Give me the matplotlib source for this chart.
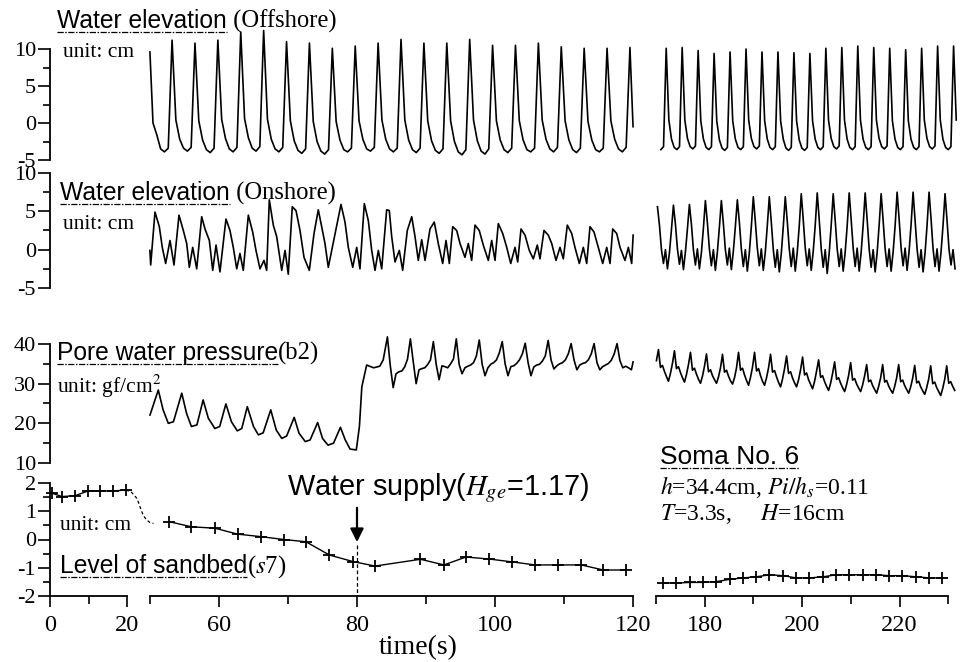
import numpy as np
import matplotlib
matplotlib.use("Agg")
import matplotlib.pyplot as plt
from matplotlib.lines import Line2D
from matplotlib.ticker import FixedLocator, NullFormatter

plt.rcParams['font.family'] = ['Liberation Serif', 'DejaVu Serif']
plt.rcParams['mathtext.fontset'] = 'stix'
plt.rcParams['axes.unicode_minus'] = False

W, H = 969, 662

# ---------------- values ----------------
# wave records are sampled on an even time grid (start, step), one wave per row

# offshore water elevation (cm), 50-120 s
off2_start, off2_step = 49.88, 0.553
off2_v = [
    9.6, 0.0, -1.6, -3.5, -3.9, -3.4,
    11.2, 0.4, -2.2, -3.4, -3.8, -3.3,
    10.8, 0.3, -2.3, -3.6, -4.0, -3.4,
    11.2, 0.5, -2.1, -3.5, -3.9, -3.3,
    12.3, 0.6, -2.0, -3.4, -3.8, -3.2,
    12.5, 0.5, -2.2, -3.5, -3.9, -3.3,
    11.0, 0.3, -2.4, -3.7, -4.1, -3.5,
    10.8, 0.2, -2.5, -3.8, -4.2, -3.6,
    10.1, 0.2, -2.3, -3.6, -3.9, -3.4,
    10.4, 0.3, -2.2, -3.5, -3.8, -3.3,
    10.8, 0.4, -2.2, -3.5, -3.9, -3.4,
    11.3, 0.4, -2.3, -3.6, -4.0, -3.4,
    10.8, 0.3, -2.4, -3.7, -4.1, -3.5,
    10.8, 0.3, -2.5, -3.9, -4.3, -3.6,
    11.3, 0.4, -2.4, -3.8, -4.2, -3.5,
    10.5, 0.3, -2.3, -3.6, -4.0, -3.4,
    10.5, 0.3, -2.3, -3.6, -3.9, -3.4,
    10.8, 0.4, -2.2, -3.5, -3.9, -3.3,
    10.3, 0.3, -2.3, -3.6, -4.0, -3.4,
    10.1, 0.2, -2.3, -3.6, -3.9, -3.4,
    10.1, 0.3, -2.2, -3.5, -3.9, -3.3,
    10.2, -0.5,
]

# offshore water elevation (cm), 170-232 s
off3_start, off3_step = 171.0, 0.5463
off3_v = [
    -3.6, -3.2,
    10.1, 0.4, -2.2, -3.3, -3.6, -3.2,
    10.2, 0.4, -2.1, -3.2, -3.5, -3.1,
    9.8, 0.3, -2.2, -3.3, -3.6, -3.2,
    9.4, 0.3, -2.3, -3.4, -3.7, -3.3,
    9.6, 0.3, -2.2, -3.3, -3.6, -3.2,
    10.0, 0.4, -2.1, -3.2, -3.5, -3.1,
    9.6, 0.3, -2.2, -3.3, -3.6, -3.2,
    9.6, 0.3, -2.2, -3.4, -3.7, -3.3,
    9.5, 0.3, -2.3, -3.4, -3.7, -3.3,
    9.4, 0.3, -2.2, -3.3, -3.6, -3.2,
    10.1, 0.4, -2.1, -3.2, -3.5, -3.1,
    10.2, 0.4, -2.2, -3.3, -3.6, -3.2,
    10.4, 0.4, -2.2, -3.3, -3.6, -3.2,
    10.2, 0.4, -2.1, -3.2, -3.5, -3.1,
    10.1, 0.3, -2.2, -3.3, -3.6, -3.2,
    9.9, 0.3, -2.2, -3.3, -3.6, -3.2,
    10.1, 0.4, -2.1, -3.2, -3.5, -3.1,
    10.4, 0.4, -2.2, -3.3, -3.6, -3.2,
    10.4, 0.4,
]

# onshore water elevation (cm), 50-120 s (irregular, points picked one by one)
on2_t = [49.86, 50.10, 50.72, 51.35, 51.78, 52.27, 52.90, 53.48, 54.20, 54.83,
         55.32, 55.70, 56.19, 56.77, 57.49, 57.97, 58.60, 59.09, 59.57, 60.14,
         61.01, 61.59, 62.07, 62.57, 63.04, 63.52, 64.25, 64.88, 65.36, 65.94,
         66.52, 66.91, 67.29, 67.87, 68.36, 69.09, 69.57, 70.04, 70.62, 71.16,
         71.74, 72.32, 73.09, 73.77, 74.39, 74.88, 75.36, 75.84, 77.68, 78.26,
         78.74, 79.38, 79.96, 80.43, 81.06, 81.64, 82.13, 82.61, 83.09, 83.58,
         84.30, 84.68, 85.03, 85.51, 86.13, 86.62, 87.29, 87.93, 88.41, 88.88,
         89.38, 89.86, 90.58, 91.20, 91.78, 92.42, 92.90, 93.38, 93.87, 94.45,
         94.93, 95.65, 96.13, 96.62, 97.10, 97.72, 98.30, 99.03, 99.52, 100.00,
         100.48, 101.12, 101.70, 102.28, 102.90, 103.29, 103.77, 104.35, 104.97, 105.55,
         106.13, 106.52, 107.10, 107.72, 108.22, 108.84, 109.42, 109.90, 110.48, 111.12,
         111.59, 112.22, 112.80, 113.29, 113.77, 114.35, 114.97, 115.61, 116.19, 116.67,
         117.06, 117.64, 118.12, 118.84, 119.33, 119.81, 120.29]
on2_v = [-0.1, -2.0, 4.9, 3.0, 0.3, -1.8, 1.2, -2.0, 4.5, 2.5,
         0.8, -2.3, 0.3, -2.5, 4.3, 2.7, 1.2, -2.7, 0.6, -2.9,
         4.0, 2.5, 0.3, -2.5, -0.5, -2.7, 4.5, 2.3, -0.1, -2.5,
         -1.4, -2.7, 6.5, 3.2, 1.7, -2.7, -0.1, -3.2, 5.6, 5.1,
         2.5, -1.0, -2.7, 2.1, 5.2, 3.0, 0.8, -2.3, 5.9, 3.6,
         0.3, -2.3, 0.3, -2.5, 6.0, 3.8, -0.1, -2.7, -0.1, -2.5,
         5.2, 5.1, 1.7, -1.6, -0.1, -2.7, 2.5, 4.3, 1.7, -1.4,
         1.3, -1.4, 2.7, 3.6, 0.8, -1.8, 1.2, -1.8, 3.0, 2.5,
         0.8, -1.0, 0.8, -1.4, 3.2, 2.5, 0.6, -1.4, 1.2, -1.4,
         3.4, 2.1, 0.3, -1.8, 0.3, -1.6, 2.7, 1.9, -0.1, -1.2,
         0.6, -1.2, 2.5, 1.9, 0.8, -1.4, 0.3, -1.2, 3.2, 2.1,
         0.3, -1.8, 0.3, -1.8, 3.0, 2.3, 0.3, -1.8, 0.3, -1.8,
         2.7, 2.1, 0.3, -1.4, 0.3, -1.8, 1.9]

# onshore water elevation (cm), 170-232 s
on3_start, on3_step = 170.3, 0.41
on3_v = [
    5.6, 3.2, 0.0, -1.8, 0.0, -2.5, -0.4, 2.6,
    5.8, 3.3, 0.1, -1.9, -0.1, -2.6, -0.3, 2.7,
    5.9, 3.3, 0.0, -2.0, 0.1, -2.5, -0.4, 2.8,
    6.4, 3.5, 0.1, -2.1, 0.0, -2.7, -0.3, 2.9,
    6.4, 3.4, 0.0, -2.0, 0.2, -2.6, -0.2, 3.0,
    6.5, 3.6, 0.1, -2.2, 0.0, -2.8, -0.4, 3.0,
    6.9, 3.7, 0.2, -2.1, 0.1, -2.7, -0.3, 3.1,
    6.9, 3.6, 0.0, -2.3, 0.0, -2.9, -0.5, 3.0,
    6.9, 3.7, 0.1, -2.2, 0.2, -2.8, -0.3, 3.1,
    7.3, 3.9, 0.2, -2.1, 0.1, -2.7, -0.2, 3.2,
    7.4, 3.9, 0.1, -2.3, 0.0, -3.1, -0.4, 3.2,
    7.3, 3.8, 0.1, -2.2, 0.1, -2.8, -0.3, 3.1,
    7.4, 3.9, 0.2, -2.2, 0.2, -2.8, -0.3, 3.2,
    7.4, 3.9, 0.1, -2.3, 0.0, -2.9, -0.4, 3.2,
    7.3, 3.8, 0.1, -2.2, 0.1, -2.8, -0.3, 3.1,
    7.5, 4.0, 0.2, -2.1, 0.2, -2.7, -0.2, 3.3,
    7.5, 3.9, 0.1, -2.3, 0.0, -2.9, -0.4, 3.2,
    7.5, 4.0, 0.1, -2.2, 0.1, -2.8, -0.3, 3.2,
    7.3, 3.8, 0.0, -2.0, 0.0, -2.5,
]

# pore water pressure b2 (gf/cm2), 50-84 s, points picked one by one
pore2a_t = [50.0, 51.2, 51.9, 52.65, 53.4, 54.6, 55.3, 56.0, 56.8, 57.7,
            58.45, 59.4, 60.1, 61.0, 61.8, 62.65, 63.3, 64.1, 65.0, 65.7,
            66.4, 67.5, 68.3, 69.1, 69.8, 70.9, 71.6, 72.5, 73.2, 74.3,
            75.0, 75.8, 76.6, 77.6, 78.3, 79.0, 79.9, 80.35, 80.7, 81.4,
            82.4, 83.3, 83.8]
pore2a_v = [22.1, 28.4, 23.4, 20.0, 20.4, 27.6, 22.5, 19.2, 19.6, 25.9,
            21.3, 18.7, 19.2, 24.9, 20.4, 18.1, 18.7, 24.2, 19.2, 17.1,
            17.6, 23.4, 18.3, 16.2, 16.8, 21.5, 17.5, 15.4, 15.8, 20.2,
            16.2, 14.5, 15.0, 19.0, 15.8, 13.5, 13.3, 19.2, 29.2, 34.7,
            34.0, 34.4, 36.0]

# pore water pressure b2, 84-120 s
pore2b_start, pore2b_step = 84.41, 0.416
pore2b_v = [
    41.8, 34.5, 29.0, 32.5, 33.0, 33.2, 34.2, 36.2,
    41.3, 35.5, 30.0, 33.5, 33.8, 34.0, 34.8, 36.0,
    40.6, 34.8, 31.0, 34.5, 34.3, 34.0, 35.0, 36.2,
    41.3, 34.8, 32.5, 34.0, 34.4, 34.7, 35.3, 37.0,
    41.0, 34.9, 32.0, 34.0, 34.9, 35.3, 36.0, 37.8,
    40.6, 35.0, 32.0, 34.3, 34.5, 35.1, 36.0, 37.5,
    40.2, 35.3, 32.0, 34.2, 34.7, 34.9, 35.7, 37.0,
    40.9, 36.0, 33.7, 34.5, 35.0, 35.3, 36.0, 37.5,
    40.1, 36.0, 33.5, 34.7, 35.1, 35.3, 36.0, 37.5,
    40.1, 35.3, 33.5, 34.3, 34.7, 35.1, 35.9, 37.5,
    40.1, 35.8, 34.0, 34.4, 34.0, 33.5, 35.5,
]

# pore water pressure b2, 170-232 s
pore3_start, pore3_step = 170.09, 0.411
pore3_v = [
    35.8,
    38.6, 34.1, 34.6, 33.1, 31.8, 30.6, 32.6, 35.1,
    38.3, 33.8, 34.3, 32.8, 31.5, 30.4, 32.3, 34.8,
    37.9, 33.4, 33.9, 32.4, 31.1, 30.1, 31.9, 34.4,
    37.5, 33.0, 33.5, 32.0, 31.0, 30.1, 31.7, 34.0,
    37.4, 32.9, 33.4, 31.9, 30.7, 29.9, 31.5, 34.0,
    37.9, 33.4, 33.9, 32.2, 30.8, 29.6, 31.6, 34.2,
    37.9, 33.2, 33.8, 32.0, 30.6, 29.6, 31.5, 34.0,
    37.4, 32.9, 33.3, 31.7, 30.3, 29.2, 31.2, 33.8,
    37.0, 32.6, 33.0, 31.4, 30.2, 29.2, 31.0, 33.5,
    36.7, 32.2, 32.7, 31.0, 29.8, 28.7, 30.6, 33.2,
    36.0, 31.6, 32.0, 30.5, 29.3, 28.3, 30.1, 32.6,
    35.5, 31.1, 31.5, 30.1, 29.0, 28.0, 29.8, 32.1,
    35.3, 30.9, 31.3, 29.9, 28.9, 28.0, 29.7, 32.0,
    34.8, 30.5, 30.9, 29.5, 28.5, 27.6, 29.3, 31.5,
    34.8, 30.4, 30.8, 29.4, 28.4, 27.6, 29.3, 31.5,
    34.8, 30.5, 30.9, 29.5, 28.5, 27.6, 29.2, 31.4,
    34.6, 30.2, 30.6, 29.2, 28.2, 27.3, 29.0, 31.2,
    34.5, 30.0, 30.4, 29.0, 28.0, 27.0, 28.8, 31.1,
    34.5, 30.1, 30.5, 29.3, 28.3,
]

# level of sandbed s7 (cm)
sand1_t = [0.5, 3.1, 6.5, 9.9, 13.0, 16.4, 19.7]
sand1_v = [1.64, 1.52, 1.55, 1.72, 1.72, 1.72, 1.75]
sand_gap_t = [19.7, 21.3, 30.3, 34.8, 39.8, 45.0, 50.0, 50.5]
sand_gap_v = [1.75, 1.69, 1.45, 1.16, 0.85, 0.69, 0.60, 0.57]
sand2_t = [52.8, 56.0, 59.4, 62.7, 66.1, 69.4, 72.6, 76.0, 79.4, 82.6,
           89.2, 92.6, 95.8, 99.1, 102.4, 105.8, 109.1, 112.5, 115.7, 119.0]
sand2_v = [0.63, 0.45, 0.40, 0.19, 0.10, 0.0, -0.08, -0.55, -0.78, -0.94,
           -0.70, -0.90, -0.62, -0.69, -0.79, -0.90, -0.90, -0.90, -1.08, -1.08]
sand3_t = [171.5, 174.2, 177.0, 179.7, 182.4, 185.2, 187.9, 190.6, 193.3, 196.1, 198.8,
           201.5, 204.3, 207.0, 209.7, 212.5, 215.2, 217.9, 220.6, 223.4, 226.1, 228.8]
sand3_v = [-1.54, -1.54, -1.52, -1.52, -1.49, -1.41, -1.36, -1.32, -1.25, -1.28, -1.36,
           -1.36, -1.32, -1.25, -1.25, -1.25, -1.25, -1.28, -1.28, -1.32, -1.36, -1.36]

supply_time = 80
x_major = [0, 20, 60, 80, 100, 120, 180, 200, 220]
x_minor = [10, 50, 70, 90, 110, 170, 190, 210, 230]
x_pieces = [(0, 20), (50, 120), (170, 230)]


def grid(start, step, vals):
    return start + step * np.arange(len(vals))


# ---------------- figure ----------------
fig = plt.figure(figsize=(W / 100, H / 100), dpi=100)


def fx(px):
    return px / W


def fy(py):
    return 1 - py / H


# the time axis is cut into three pieces with their own scale
t_knots = [-100, 0, 21, 50, 120, 170, 232, 400]
p_knots = [-335, 50, 130.9, 150, 633, 656, 958, 1777]


def fwd(t):
    return np.interp(t, t_knots, p_knots)


def inv(p):
    return np.interp(p, p_knots, t_knots)


# (top px, bottom px, ymin, ymax, major step)
panels = [(49, 160, -5, 10, 5), (173, 288, -5, 10, 5),
          (344, 463, 10, 40, 10), (483, 596, -2, 2, 1)]
axes = []
for top, bot, lo, hi, step in panels:
    ax = fig.add_axes([fx(50), fy(bot), fx(958) - fx(50), (bot - top) / H])
    ax.set_xscale('function', functions=(fwd, inv))
    ax.set_xlim(0, 232)
    ax.set_ylim(lo, hi)
    ax.patch.set_visible(False)
    for s in ['top', 'right', 'bottom']:
        ax.spines[s].set_visible(False)
    ax.spines['left'].set_linewidth(1.3)
    ax.yaxis.set_major_locator(FixedLocator(np.arange(lo, hi + 0.01, step)))
    ax.yaxis.set_minor_locator(FixedLocator(np.arange(lo + step / 2, hi, step)))
    ax.tick_params(axis='y', which='major', direction='out', length=9, width=1.2,
                   labelsize=16, pad=1)
    ax.tick_params(axis='y', which='minor', direction='out', length=5, width=1.2)
    ax.tick_params(axis='x', which='both', bottom=False, labelbottom=False)
    axes.append(ax)

ax1, ax2, ax3, ax4 = axes
kw = dict(color='black', lw=1.2, clip_on=False)

ax1.plot(grid(off2_start, off2_step, off2_v), off2_v, **kw)
ax1.plot(grid(off3_start, off3_step, off3_v), off3_v, **kw)

ax2.plot(on2_t, on2_v, **kw)
ax2.plot(grid(on3_start, on3_step, on3_v), on3_v, **kw)

ax3.plot(pore2a_t + list(grid(pore2b_start, pore2b_step, pore2b_v)),
         pore2a_v + pore2b_v, **kw)
ax3.plot(grid(pore3_start, pore3_step, pore3_v), pore3_v, **kw)

mk = dict(color='black', lw=1.0, marker='+', ms=9, mew=1.3, clip_on=False)
ax4.plot(sand1_t, sand1_v, **mk)
ax4.plot(sand_gap_t, sand_gap_v, color='black', lw=0.9, ls=(0, (2.5, 2)))
ax4.plot(sand2_t, sand2_v, **mk)
ax4.plot(sand3_t, sand3_v, **mk)

# broken time axis
ax4.xaxis.set_major_locator(FixedLocator(x_major))
ax4.xaxis.set_minor_locator(FixedLocator(x_minor))
ax4.set_xticklabels([str(v) for v in x_major])
ax4.xaxis.set_minor_formatter(NullFormatter())
ax4.tick_params(axis='x', which='major', bottom=True, labelbottom=True, direction='out',
                length=8, width=1.2, labelsize=17.5, pad=6)
ax4.tick_params(axis='x', which='minor', bottom=True, direction='out', length=5.5, width=1.2)
for a, b in x_pieces:
    ax4.plot([a, b], [0, 0], color='black', lw=1.3, transform=ax4.get_xaxis_transform(),
             clip_on=False)

# water supply arrow
ax4.annotate('', xy=(supply_time, -0.19), xytext=(supply_time, 1.22),
             arrowprops=dict(arrowstyle='-|>', color='black', lw=1.6, mutation_scale=20))
ax4.plot([supply_time, supply_time], [-0.19, -2], color='black', lw=0.9, ls=(0, (3, 2)))

fig.text(fx(418), fy(654), 'time(s)', fontsize=20, ha='center', va='baseline')

# ---------------- labels ----------------
r = fig.canvas.get_renderer()


def underline(t, py):
    bb = t.get_window_extent(renderer=r)
    fig.add_artist(Line2D([bb.x0 / W, bb.x1 / W], [fy(py)] * 2, color='black', lw=0.9,
                          ls=(0, (5, 1.2, 1.2, 1.2))))
    return bb


def heading(px, py, sans, serif, size=17.7):
    a = fig.text(fx(px), fy(py), sans, family='Liberation Sans', fontsize=size,
                 va='baseline')
    bb = underline(a, py + 4)
    fig.text(bb.x1 / W, fy(py), serif, fontsize=size, va='baseline')


heading(57, 28, 'Water elevation', ' (Offshore)')
fig.text(fx(63), fy(57), 'unit: cm', fontsize=15.5, va='baseline')
heading(60, 200, 'Water elevation', ' (Onshore)')
fig.text(fx(63), fy(229), 'unit: cm', fontsize=15.5, va='baseline')
heading(57, 360, 'Pore water pressure', '(b2)')
fig.text(fx(57), fy(393), 'unit: gf/cm$^2$', fontsize=15.5, va='baseline')
fig.text(fx(60), fy(530), 'unit: cm', fontsize=15.5, va='baseline')
heading(60, 573, 'Level of sandbed', '($s$7)')

fig.text(fx(287), fy(495), 'Water supply($H_{ge}$=1.17)', family='Liberation Sans',
         fontsize=20.8, va='baseline')

soma = fig.text(fx(660), fy(464), 'Soma No. 6', family='Liberation Sans', fontsize=19,
                va='baseline')
underline(soma, 468)
fig.text(fx(660), fy(494), '$h$=34.4cm, $Pi/h_s$=0.11', fontsize=17, va='baseline')
fig.text(fx(660), fy(520), '$T$=3.3s,     $H$=16cm', fontsize=17, va='baseline')

fig.savefig('out.png', dpi=100)
